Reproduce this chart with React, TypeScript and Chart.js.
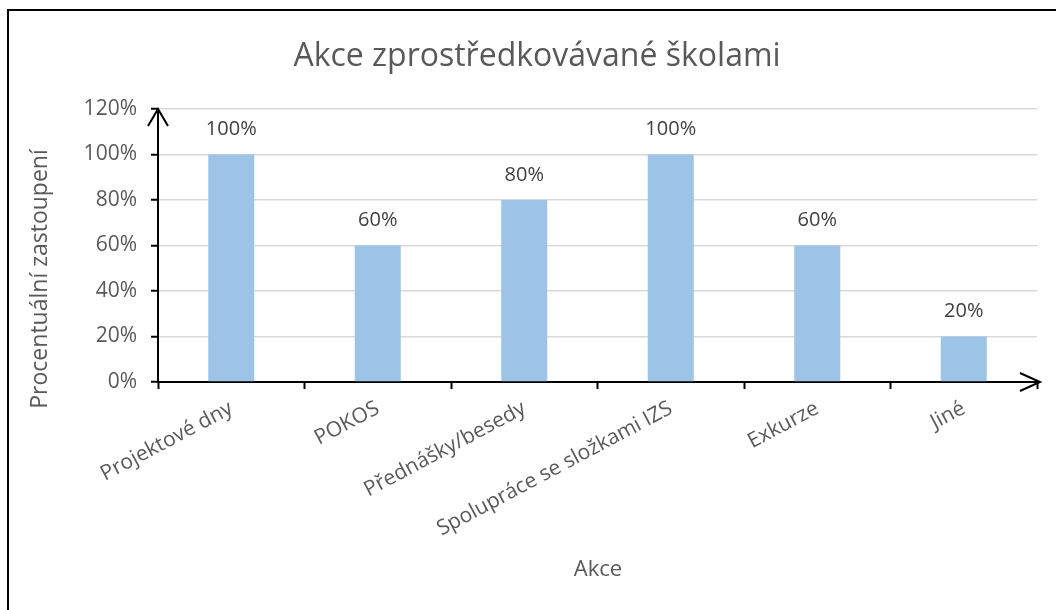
import React, { useEffect, useRef } from "react";
import { Chart, registerables } from "chart.js";

Chart.register(...registerables);

const chartTitle = "Akce zprostředkovávané školami";
const xAxisTitle = "Akce";
const yAxisTitle = "Procentuální zastoupení";
const categories = [
  "Projektové dny",
  "POKOS",
  "Přednášky/besedy",
  "Spolupráce se složkami IZS",
  "Exkurze",
  "Jiné",
];
const values = [100, 60, 80, 100, 60, 20];
const yMin = 0;
const yMax = 120;
const yStep = 20;

const FONT = "'Open Sans', sans-serif";
const TEXT = "#595959";

const decorPlugin = {
  id: "decor",
  beforeDraw(chart: any) {
    const ctx = chart.ctx;
    ctx.save();
    ctx.fillStyle = "#fff";
    ctx.fillRect(0, 0, chart.width, chart.height);
    ctx.strokeStyle = "#000";
    ctx.lineWidth = 2;
    ctx.strokeRect(8, 10, chart.width + 50, chart.height + 50);
    ctx.restore();
  },
  afterDatasetsDraw(chart: any) {
    const ctx = chart.ctx;
    const meta = chart.getDatasetMeta(0);
    ctx.save();
    ctx.font = `20px ${FONT}`;
    ctx.fillStyle = "#404040";
    ctx.textAlign = "center";
    ctx.textBaseline = "middle";
    meta.data.forEach((bar: any, i: number) => {
      ctx.fillText(`${values[i]}%`, bar.x, bar.y - 25);
    });
    ctx.restore();
  },
  afterDraw(chart: any) {
    const ctx = chart.ctx;
    const { chartArea, scales } = chart;
    const x0 = chartArea.left;
    const y0 = scales.y.getPixelForValue(yMin);
    const yTop = scales.y.getPixelForValue(yMax);
    const xTip = chartArea.right + 3;
    ctx.save();
    ctx.strokeStyle = "#000";
    ctx.lineWidth = 2;
    ctx.lineJoin = "miter";
    // y arrow
    ctx.beginPath();
    ctx.moveTo(x0 - 10, yTop + 17);
    ctx.lineTo(x0, yTop);
    ctx.lineTo(x0 + 10, yTop + 17);
    ctx.stroke();
    // x axis extension + arrow
    ctx.beginPath();
    ctx.moveTo(chartArea.right - 2, y0);
    ctx.lineTo(xTip, y0);
    ctx.stroke();
    ctx.beginPath();
    ctx.moveTo(xTip - 20, y0 - 9);
    ctx.lineTo(xTip, y0);
    ctx.lineTo(xTip - 20, y0 + 9);
    ctx.stroke();

    // titles
    ctx.fillStyle = TEXT;
    ctx.textAlign = "center";
    ctx.textBaseline = "middle";
    ctx.font = `32px ${FONT}`;
    ctx.fillText(chartTitle, 537, 57);
    ctx.font = `22px ${FONT}`;
    ctx.fillText(xAxisTitle, 598, 570);
    ctx.font = `23px ${FONT}`;
    ctx.translate(40, 279);
    ctx.rotate(-Math.PI / 2);
    ctx.fillText(yAxisTitle, 0, 0);
    ctx.restore();
  },
};

export default function App() {
  const ref = useRef<HTMLCanvasElement | null>(null);

  useEffect(() => {
    if (!ref.current) return;
    const chart = new Chart(ref.current, {
      type: "bar",
      data: {
        labels: categories,
        datasets: [
          {
            data: values,
            backgroundColor: "#9DC3E6",
            borderWidth: 0,
            barPercentage: 0.314,
            categoryPercentage: 1,
          },
        ],
      },
      options: {
        animation: false,
        responsive: false,
        layout: { padding: { left: 0, top: 109, right: 19, bottom: 0 } },
        plugins: {
          legend: { display: false },
          title: { display: false },
          tooltip: { enabled: false },
        },
        scales: {
          x: {
            offset: true,
            afterFit: (s: any) => {
              s.height = 228;
            },
            grid: {
              offset: true,
              drawOnChartArea: false,
              drawTicks: true,
              tickLength: 7,
              tickColor: "#000",
              tickWidth: 2,
            },
            border: { display: true, color: "#000", width: 2 },
            ticks: {
              minRotation: 28,
              maxRotation: 28,
              autoSkip: false,
              padding: 7,
              color: TEXT,
              font: { family: FONT, size: 21 },
            },
          },
          y: {
            min: yMin,
            max: yMax,
            afterFit: (s: any) => {
              s.width = 158;
            },
            grid: {
              color: "#D9D9D9",
              lineWidth: 1.5,
              drawTicks: true,
              tickLength: 7,
              tickColor: "#000",
              tickWidth: 2,
            },
            border: { display: true, color: "#000", width: 2 },
            ticks: {
              stepSize: yStep,
              padding: 14,
              color: TEXT,
              font: { family: FONT, size: 21 },
              callback: (v: any) => `${v}%`,
            },
          },
        },
      },
      plugins: [decorPlugin],
    });
    return () => chart.destroy();
  }, []);

  return (
    <div style={{ position: "fixed", left: 0, top: 0, width: 1056, height: 610 }}>
      <canvas ref={ref} width={1056} height={610} />
    </div>
  );
}
